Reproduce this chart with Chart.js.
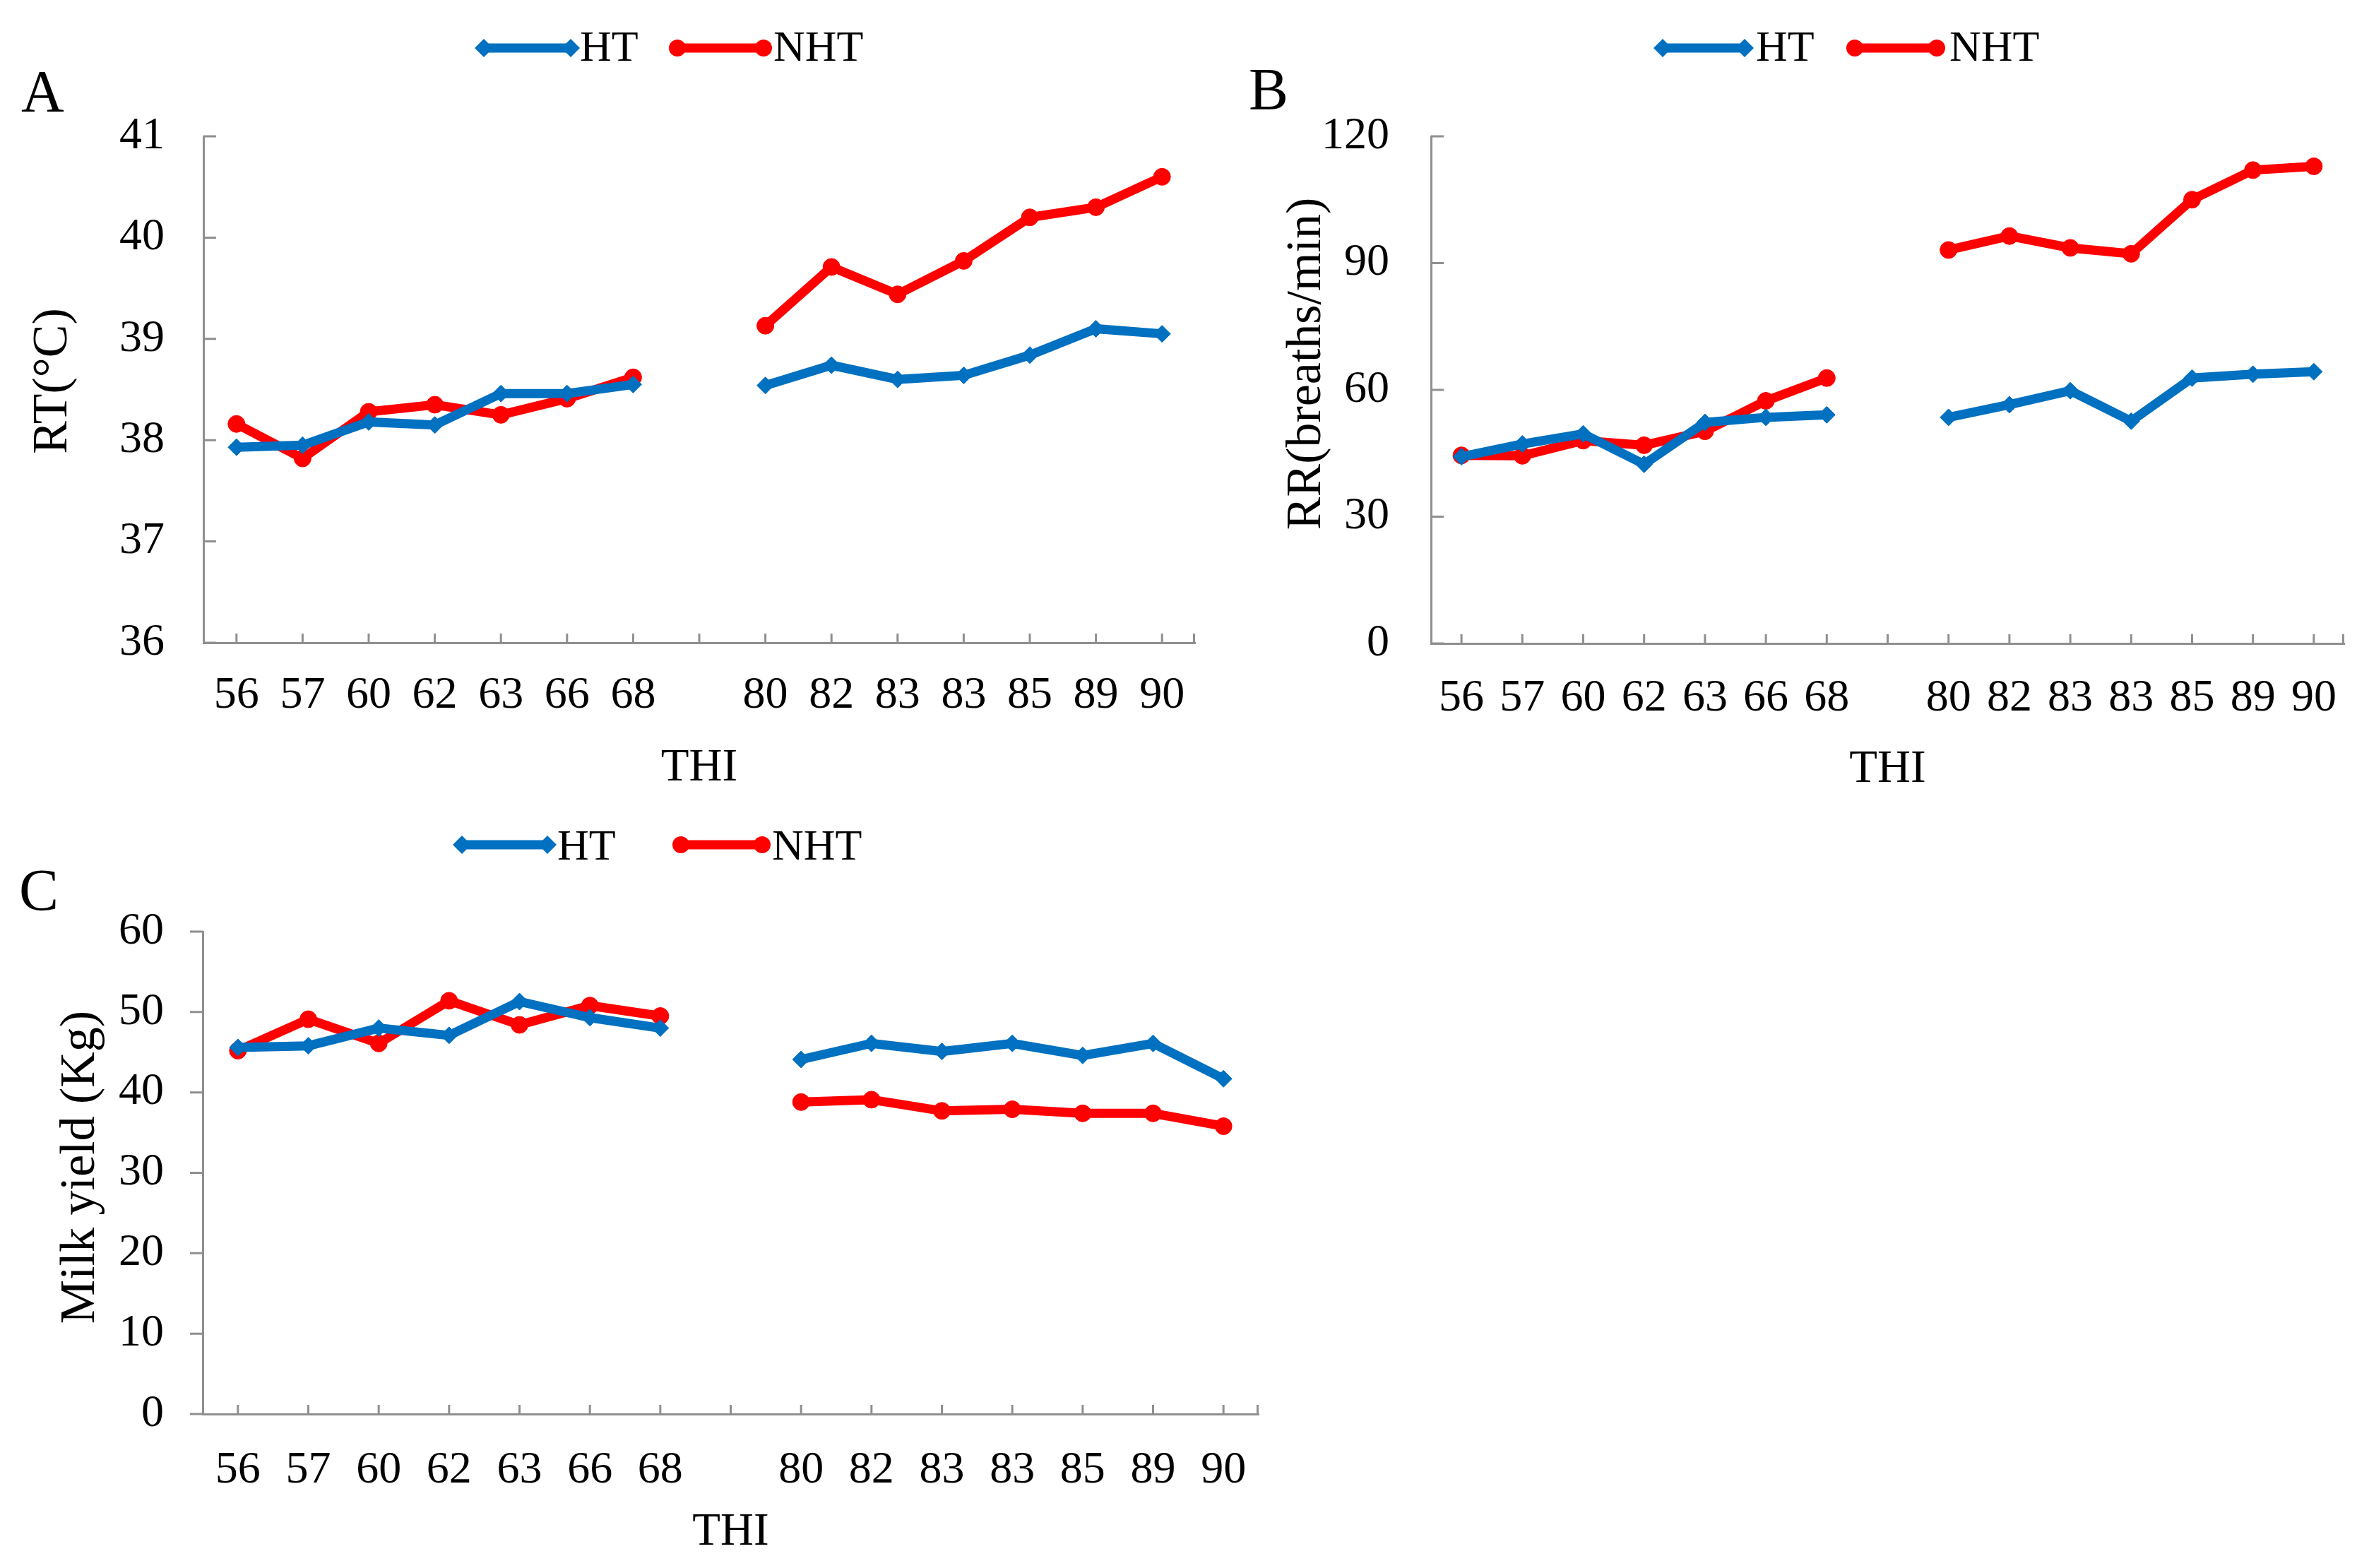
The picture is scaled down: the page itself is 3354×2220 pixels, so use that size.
<!DOCTYPE html>
<html>
<head>
<meta charset="utf-8">
<script src="https://cdn.jsdelivr.net/npm/chart.js@4/dist/chart.umd.min.js"></script>
<style>
  html, body { margin: 0; padding: 0; background: #fff; }
  body { width: 3354px; height: 2220px; position: relative; overflow: hidden; }
  canvas { position: absolute; }
  .panel { position: absolute; font-family: "Liberation Serif", "Times New Roman", serif; font-size: 84px; line-height: 1; color: #000; }
</style>
</head>
<body>
<canvas id="cA" width="1760" height="1130" style="left:0px;top:0px;width:1760px;height:1130px"></canvas>
<canvas id="cB" width="1674" height="1130" style="left:1680px;top:0px;width:1674px;height:1130px"></canvas>
<canvas id="cC" width="1860" height="1090" style="left:0px;top:1130px;width:1860px;height:1090px"></canvas>
<div class="panel" style="left:30px;top:88px">A</div>
<div class="panel" style="left:1768px;top:85px">B</div>
<div class="panel" style="left:27px;top:1219px">C</div>
<script>
// ---------- data ----------
const thiLabels = ['56','57','60','62','63','66','68','','80','82','83','83','85','89','90'];
const seriesNames = ['HT', 'NHT'];

const rtHT  = [37.93, 37.95, 38.18, 38.15, 38.46, 38.46, 38.55, null, 38.54, 38.74, 38.60, 38.64, 38.84, 39.10, 39.05];
const rtNHT = [38.16, 37.82, 38.28, 38.35, 38.25, 38.41, 38.62, null, 39.13, 39.71, 39.44, 39.77, 40.20, 40.30, 40.60];

const rrHT  = [44.2, 47.2, 49.6, 42.4, 52.3, 53.5, 54.1, null, 53.5, 56.5, 59.8, 52.6, 62.8, 63.7, 64.3];
const rrNHT = [44.5, 44.4, 48.0, 46.9, 50.2, 57.4, 62.8, null, 93.1, 96.4, 93.6, 92.2, 105.0, 112.0, 112.9];

const myHT  = [45.6, 45.8, 48.0, 47.1, 51.3, 49.3, 48.0, null, 44.1, 46.1, 45.1, 46.1, 44.6, 46.1, 41.7];
const myNHT = [45.2, 49.1, 46.1, 51.4, 48.4, 50.8, 49.5, null, 38.8, 39.1, 37.7, 37.9, 37.4, 37.4, 35.8];

const rtTicks = [36, 37, 38, 39, 40, 41];
const rrTicks = [0, 30, 60, 90, 120];
const myTicks = [0, 10, 20, 30, 40, 50, 60];

const rtTitle = 'RT(°C)';
const rrTitle = 'RR(breaths/min)';
const myTitle = 'Milk yield (Kg)';
const xTitle = 'THI';

// ---------- styles ----------
const FONT = '"Liberation Serif", "Times New Roman", serif';
const BLUE = '#0070C0';
const RED = '#FF0000';
const AXIS = '#8f8f8f';

function drawMarker(ctx, style, x, y, r) {
  ctx.beginPath();
  if (style === 'rectRot') {
    ctx.moveTo(x, y - r); ctx.lineTo(x + r, y); ctx.lineTo(x, y + r); ctx.lineTo(x - r, y); ctx.closePath();
  } else {
    ctx.arc(x, y, r, 0, Math.PI * 2);
  }
  ctx.fill();
}

const tickMarks = {
  id: 'tickMarks',
  beforeDatasetsDraw(chart, args, o) {
    const ctx = chart.ctx, xs = chart.scales.x, ys = chart.scales.y;
    const b = chart.chartArea.bottom, l = chart.chartArea.left;
    ctx.save();
    ctx.strokeStyle = o.color; ctx.lineWidth = o.width; ctx.lineCap = 'butt';
    ctx.beginPath();
    xs.ticks.forEach((t, i) => { const px = xs.getPixelForTick(i); ctx.moveTo(px, b); ctx.lineTo(px, b - o.xLen); });
    ctx.moveTo(xs.right - o.width / 2, b); ctx.lineTo(xs.right - o.width / 2, b - o.xLen);
    ys.ticks.forEach((t, i) => { const py = ys.getPixelForTick(i); ctx.moveTo(l, py); ctx.lineTo(l + o.yDir * o.yLen, py); });
    ctx.stroke();
    ctx.restore();
  }
};

const yTitle = {
  id: 'yTitle',
  afterDraw(chart, args, o) {
    const ctx = chart.ctx, ca = chart.chartArea;
    ctx.save();
    ctx.translate(o.x, (ca.top + ca.bottom) / 2 + o.dy);
    ctx.rotate(-Math.PI / 2);
    ctx.fillStyle = '#000';
    ctx.font = o.size + 'px ' + FONT;
    ctx.textAlign = 'center'; ctx.textBaseline = 'middle';
    ctx.fillText(o.text, 0, 0);
    ctx.restore();
  }
};

const lineLegend = {
  id: 'lineLegend',
  afterDraw(chart, args, o) {
    const ctx = chart.ctx;
    chart.data.datasets.forEach((ds, i) => {
      const it = o.items[i];
      ctx.save();
      ctx.strokeStyle = ds.borderColor; ctx.lineWidth = ds.borderWidth;
      ctx.beginPath(); ctx.moveTo(it.x1, o.y); ctx.lineTo(it.x2, o.y); ctx.stroke();
      ctx.fillStyle = ds.borderColor;
      drawMarker(ctx, ds.pointStyle, it.x1, o.y, ds.pointStyle === 'rectRot' ? o.r + 1 : o.r);
      drawMarker(ctx, ds.pointStyle, it.x2, o.y, ds.pointStyle === 'rectRot' ? o.r + 1 : o.r);
      ctx.fillStyle = '#000';
      ctx.font = o.fontSize + 'px ' + FONT;
      ctx.textBaseline = 'alphabetic'; ctx.textAlign = 'left';
      ctx.fillText(ds.label, it.tx, o.base);
      ctx.restore();
    });
  }
};

function makeChart(id, cfg) {
  const datasets = [
    { label: seriesNames[0], data: cfg.ht, borderColor: BLUE, backgroundColor: BLUE, pointBackgroundColor: BLUE, pointBorderColor: BLUE,
      pointStyle: 'rectRot', pointRadius: 12, pointBorderWidth: 1, borderWidth: 13, spanGaps: false, tension: 0, clip: false },
    { label: seriesNames[1], data: cfg.nht, borderColor: RED, backgroundColor: RED, pointBackgroundColor: RED, pointBorderColor: RED,
      pointStyle: 'circle', pointRadius: 12, pointBorderWidth: 1, borderWidth: 13, spanGaps: false, tension: 0, clip: false }
  ];
  return new Chart(document.getElementById(id), {
    type: 'line',
    data: { labels: thiLabels, datasets },
    options: {
      responsive: false, animation: false, devicePixelRatio: 1, events: [],
      layout: { padding: cfg.pad },
      plugins: {
        legend: { display: false }, tooltip: { enabled: false },
        tickMarks: { color: AXIS, width: 3, xLen: 13, yLen: 18, yDir: cfg.yDir },
        yTitle: { text: cfg.title, x: cfg.titleX, dy: cfg.titleDy, size: 70 },
        lineLegend: cfg.legend
      },
      scales: {
        x: {
          type: 'category', offset: true,
          grid: { display: false, drawTicks: false },
          border: { display: true, color: AXIS, width: 3 },
          ticks: { autoSkip: false, maxRotation: 0, minRotation: 0, padding: cfg.xTickPad, color: '#000', font: { family: FONT, size: 64 } },
          title: { display: true, text: xTitle, color: '#000', padding: 0, font: { family: FONT, size: 65 } },
          afterFit(s) { s.height = cfg.xH; }
        },
        y: {
          min: cfg.ticks[0], max: cfg.ticks[cfg.ticks.length - 1],
          grid: { display: false, drawTicks: false },
          border: { display: true, color: AXIS, width: 3 },
          ticks: { padding: cfg.yTickPad, color: '#000', font: { family: FONT, size: 64 } },
          afterBuildTicks(s) { s.ticks = cfg.ticks.map(v => ({ value: v })); },
          title: { display: false },
          afterFit(s) { s.width = cfg.yW; }
        }
      }
    },
    plugins: [tickMarks, lineLegend, yTitle]
  });
}

makeChart('cA', {
  ht: rtHT, nht: rtNHT, ticks: rtTicks, title: rtTitle, titleX: 76, titleDy: -12,
  pad: { top: 193, right: 68, bottom: 3, left: 0 }, yW: 288, xH: 217,
  yTickPad: 55, xTickPad: 37, yDir: 1,
  legend: { y: 68, base: 86, r: 12, fontSize: 62,
    items: [ { x1: 685, x2: 808, tx: 821 }, { x1: 959, x2: 1081, tx: 1095 } ] }
});

makeChart('cB', {
  ht: rrHT, nht: rrNHT, ticks: rrTicks, title: rrTitle, titleX: 171, titleDy: -37,
  pad: { top: 193, right: 35, bottom: 1, left: 0 }, yW: 346, xH: 218,
  yTickPad: 59, xTickPad: 40, yDir: 1,
  legend: { y: 68, base: 86, r: 12, fontSize: 62,
    items: [ { x1: 674, x2: 790, tx: 806 }, { x1: 946, x2: 1062, tx: 1080 } ] }
});

makeChart('cC', {
  ht: myHT, nht: myNHT, ticks: myTicks, title: myTitle, titleX: 115, titleDy: -8,
  pad: { top: 189, right: 78, bottom: 11, left: 0 }, yW: 287, xH: 207,
  yTickPad: 55, xTickPad: 42, yDir: -1,
  legend: { y: 66, base: 87, r: 12, fontSize: 62,
    items: [ { x1: 654, x2: 775, tx: 789 }, { x1: 964, x2: 1079, tx: 1093 } ] }
});
</script>
</body>
</html>
